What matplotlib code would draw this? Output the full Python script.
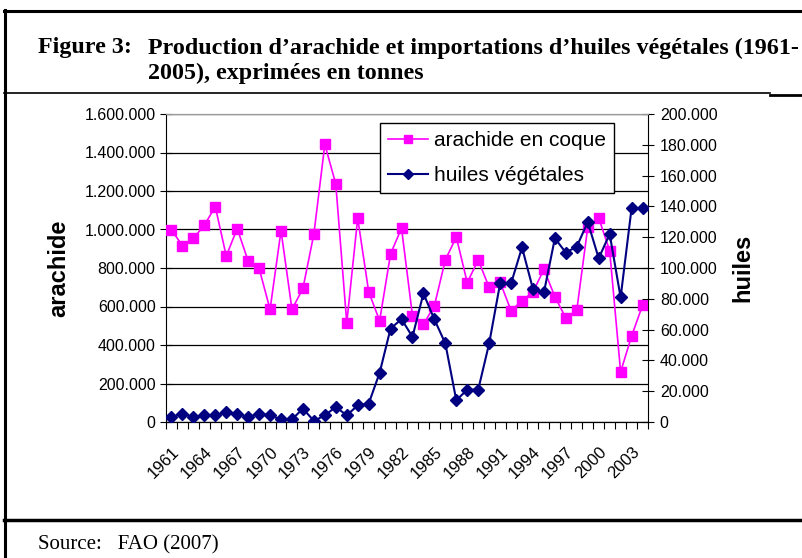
import numpy as np
import matplotlib
matplotlib.use("Agg")
import matplotlib.pyplot as plt
import matplotlib.transforms as mtrans
from matplotlib.lines import Line2D

# data (tonnes)
years = list(range(1961, 2005))
arachide = [998000, 916000, 954000, 1022000, 1119000, 862000, 1005000, 836000, 798000, 585000,
            994000, 585000, 694000, 977000, 1442000, 1236000, 515000, 1059000, 677000, 526000,
            873000, 1007000, 552000, 507000, 604000, 842000, 961000, 724000, 842000, 699000,
            727000, 578000, 630000, 675000, 793000, 651000, 540000, 581000, 1012000, 1060000,
            890000, 260000, 446000, 606000]
huiles = [3300, 5400, 3300, 4300, 4300, 6500, 5400, 3300, 5400, 4300,
          1700, 1700, 8700, 700, 4300, 9800, 4300, 10800, 11900, 31900,
          60700, 66800, 55300, 83500, 66600, 51000, 14100, 21000, 21000, 51000,
          90000, 90000, 113400, 86300, 84200, 119300, 110000, 113900, 129900, 106300,
          122100, 80900, 138800, 138800]

PINK = "#FF00FF"
NAVY = "#000080"
SANS = "Liberation Sans"
SERIF = "Liberation Serif"


def dotted(v):
    return f"{v:,.0f}".replace(",", ".")


fig = plt.figure(figsize=(8.03, 5.58), dpi=100)
W, H = 803, 558

# frame lines of the document box
def hline(y, x0, x1, lw):
    fig.add_artist(Line2D([x0 / W, x1 / W], [1 - y / H, 1 - y / H], color="black", lw=lw))

hline(11, 4, 803, 2.2)
hline(93, 4, 770, 1.2)
hline(95, 770, 803, 2.0)
hline(520, 4, 803, 2.5)
fig.add_artist(Line2D([5.5 / W, 5.5 / W], [1 - 10 / H, 0], color="black", lw=2.2))

fig.text(38 / W, 1 - 48 / H, "Figure 3:", family=SERIF, weight="bold", fontsize=17.3, va="center")
fig.text(148 / W, 1 - 48 / H, "Production d\u2019arachide et importations d\u2019huiles v\u00e9g\u00e9tales (1961-",
         family=SERIF, weight="bold", fontsize=17.3, va="center")
fig.text(148 / W, 1 - 73 / H, "2005), exprim\u00e9es en tonnes",
         family=SERIF, weight="bold", fontsize=17.3, va="center")
fig.text(38 / W, 1 - 545 / H, "Source:   FAO (2007)", family=SERIF, fontsize=15, va="center")

# plot area
ax = fig.add_axes([166 / W, 1 - 422 / H, 482 / W, 308 / H])
ax2 = ax.twinx()

x = np.arange(len(years))
ax.plot(x, arachide, color=PINK, lw=1.2, marker="s", markersize=7.5, zorder=3)
ax2.plot(x, huiles, color=NAVY, lw=1.5, marker="D", markersize=6, zorder=3)

ax.set_xlim(-0.5, len(years) - 0.5)
ax.set_ylim(0, 1600000)
ax2.set_ylim(0, 200000)

left_ticks = np.arange(0, 1600001, 200000)
ax.set_yticks(left_ticks)
ax.set_yticklabels([dotted(v) for v in left_ticks], family=SANS, fontsize=11.5)
right_ticks = np.arange(0, 200001, 20000)
ax2.set_yticks(right_ticks)
ax2.set_yticklabels([dotted(v) for v in right_ticks], family=SANS, fontsize=11.5)

ax.set_xticks(np.arange(-0.5, len(years), 1))
ax.set_xticklabels([])
ax.set_xticks(x[::3], minor=True)
labels = ax.set_xticklabels([str(y) for y in years[::3]], minor=True, rotation=45,
                            ha="right", va="top", rotation_mode="anchor", family=SANS, fontsize=12)
shift = mtrans.ScaledTranslation(-16 / 100, 0, fig.dpi_scale_trans)
for lab in labels:
    lab.set_transform(lab.get_transform() + shift)
ax.tick_params(axis="x", which="major", direction="out", length=5, width=0.8)
ax.tick_params(axis="x", which="minor", length=0, pad=16)
ax.tick_params(axis="y", direction="inout", length=9, width=0.8, pad=3)
ax2.tick_params(axis="y", direction="inout", length=9, width=0.8, pad=4)

ax.grid(axis="y", color="black", lw=0.9)
ax.set_axisbelow(True)
for a in (ax, ax2):
    a.spines["top"].set_color("#999999")
    a.spines["left"].set_visible(False)
    a.spines["right"].set_visible(False)
ax.spines["left"].set_visible(True)
ax2.spines["right"].set_visible(True)

ax.set_ylabel("arachide", family=SANS, weight="bold", fontsize=17, labelpad=10)
ax2.set_ylabel("huiles", family=SANS, weight="bold", fontsize=17, rotation=90, labelpad=10)

handles = [Line2D([], [], color=PINK, lw=1.2, marker="s", markersize=6),
           Line2D([], [], color=NAVY, lw=1.5, marker="D", markersize=5)]
leg = ax2.legend(handles, ["arachide en coque", "huiles v\u00e9g\u00e9tales"],
                 loc="upper left", bbox_to_anchor=((380 - 166) / 482, 1 - (123 - 114) / 308),
                 prop={"family": SANS, "size": 15}, frameon=True, fancybox=False,
                 edgecolor="black", framealpha=1, borderpad=0.4, labelspacing=0.75,
                 handlelength=1.9, handletextpad=0.3, borderaxespad=0)
leg.get_frame().set_linewidth(1.0)

fig.savefig("out.png", dpi=100)
